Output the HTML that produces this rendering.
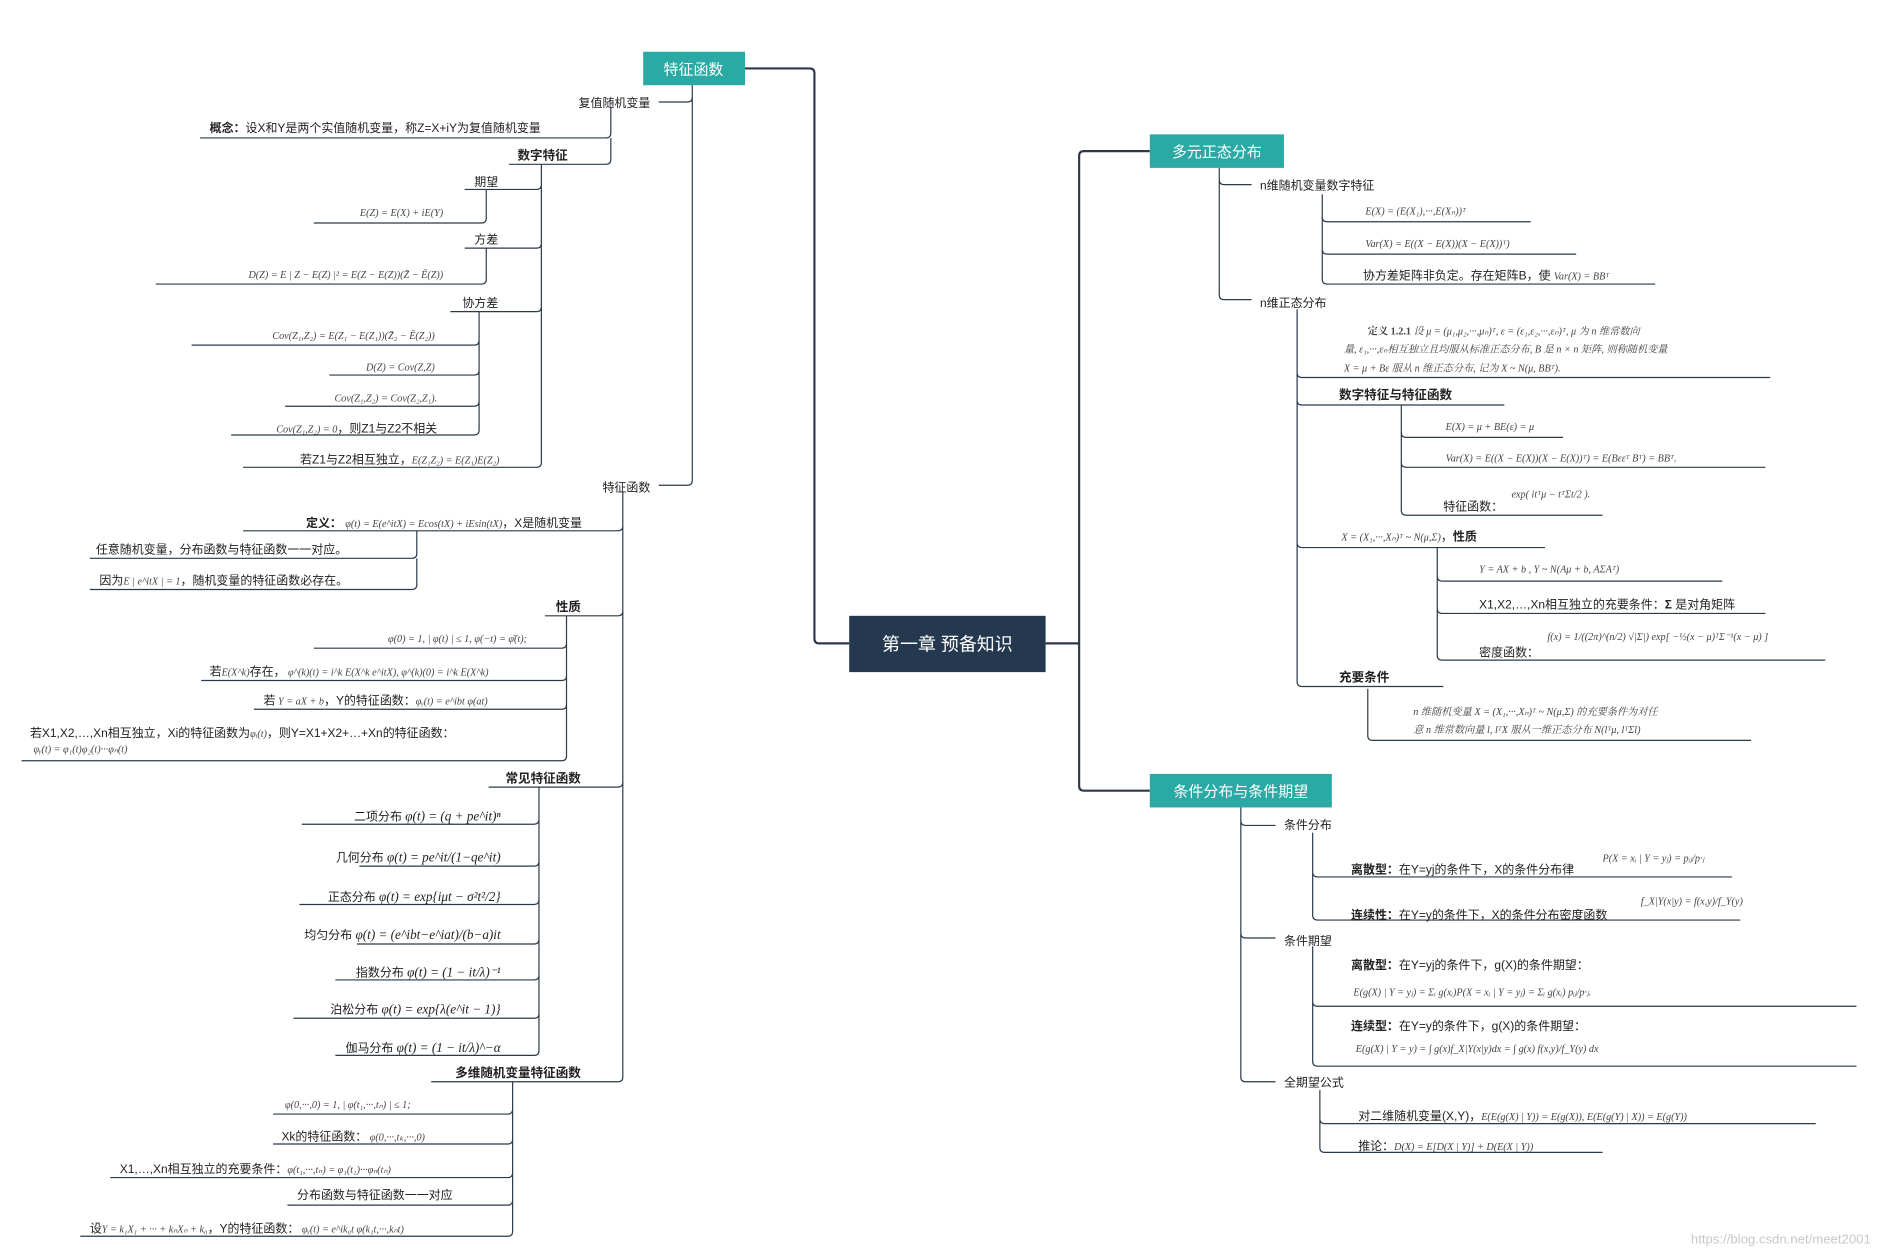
<!DOCTYPE html>
<html><head><meta charset="utf-8"><style>
html,body{margin:0;padding:0;background:#fff;}
svg{display:block}
.t{font-family:"Liberation Sans","Noto Sans CJK SC",sans-serif;font-size:10px;fill:#222}
.b{font-family:"Liberation Sans","Noto Sans CJK SC",sans-serif;font-size:10.5px;font-weight:bold;fill:#222}
.f{font-family:"Liberation Serif","Noto Serif CJK SC",serif;font-size:8.5px;fill:#444;font-style:italic}
.F{font-family:"Liberation Serif",serif;font-size:11px;fill:#222;font-style:italic}
.w{font-family:"Liberation Sans","Noto Sans CJK SC",sans-serif;font-size:12.5px;fill:#fff}
.l{stroke:#2b3a4a;stroke-width:1;fill:none}
.m{stroke:#2b3a4a;stroke-width:1.8;fill:none}
</style></head><body>
<svg width="1878" height="1258" viewBox="0 0 1568 1050" xmlns="http://www.w3.org/2000/svg">
<path class="m" d="M622 57 H676 Q680 57 680 61 V533 Q680 537 684 537 H709"/>
<path class="m" d="M873 537 H901 M905 126 Q901 126 901 130 V656 Q901 660 905 660 M905 126 H960 M905 660 H960"/>
<rect x="709" y="514" width="164" height="47" fill="#24394f"/>
<text class="w" x="791" y="543" text-anchor="middle" style="font-size:15px">第一章  预备知识</text>
<rect x="537" y="43" width="85" height="28" fill="#2aa9a5"/>
<text class="w" x="579" y="62" text-anchor="middle">特征函数</text>
<rect x="960" y="112" width="112" height="28" fill="#2aa9a5"/>
<text class="w" x="1016" y="131" text-anchor="middle">多元正态分布</text>
<rect x="960" y="646" width="152" height="28" fill="#2aa9a5"/>
<text class="w" x="1036" y="665" text-anchor="middle">条件分布与条件期望</text>

<path class="l" d="M578 71 V401 Q578 405 574 405 H550 M578 81 Q578 85 574 85 H550"/>
<text class="t" x="543" y="89" text-anchor="end">复值随机变量</text>
<path class="l" d="M510 89 V111 Q510 115 506 115 H167 M510 115 V133 Q510 137 506 137 H425"/>
<text class="t" x="175" y="110"><tspan font-weight="bold">概念：</tspan>设X和Y是两个实值随机变量，称Z=X+iY为复值随机变量</text>
<text class="b" x="474" y="133" text-anchor="end">数字特征</text>
<path class="l" d="M452 137 V386 Q452 390 448 390 H203 M452 154 Q452 158 448 158 H388 M452 203 Q452 207 448 207 H388 M452 256 Q452 260 448 260 H376"/>
<text class="t" x="416" y="155" text-anchor="end">期望</text>
<text class="t" x="416" y="203" text-anchor="end">方差</text>
<text class="t" x="416" y="256" text-anchor="end">协方差</text>
<path class="l" d="M406 158 V182 Q406 186 402 186 H262 M406 207 V233 Q406 237 402 237 H130"/>
<text class="f" x="370" y="180" text-anchor="end">E(Z) = E(X) + iE(Y)</text>
<text class="f" x="370" y="232" text-anchor="end">D(Z) = E | Z − E(Z) |² = E(Z − E(Z))(Z̄ − Ē(Z))</text>
<path class="l" d="M400 260 V359 Q400 363 396 363 H193 M400 284 Q400 288 396 288 H160 M400 309 Q400 313 396 313 H275 M400 335 Q400 339 396 339 H238"/>
<text class="f" x="363" y="283" text-anchor="end">Cov(Z₁,Z₂) = E(Z₁ − E(Z₁))(Z̄₂ − Ē(Z₂))</text>
<text class="f" x="363" y="309" text-anchor="end">D(Z) = Cov(Z,Z)</text>
<text class="f" x="365" y="335" text-anchor="end">Cov(Z₁,Z₂) = Cov(Z₂,Z₁).</text>
<text class="t" x="365" y="361" text-anchor="end"><tspan class="f">Cov(Z₁,Z₂) = 0</tspan>，则Z1与Z2不相关</text>
<text class="t" x="417" y="387" text-anchor="end">若Z1与Z2相互独立，<tspan class="f">E(Z₁Z₂) = E(Z₁)E(Z₂)</tspan></text>
<text class="t" x="543" y="410" text-anchor="end">特征函数</text>
<path class="l" d="M520 410 V899 Q520 903 516 903 H360 M520 439 Q520 443 516 443 H203 M520 510 Q520 514 516 514 H455 M520 653 Q520 657 516 657 H408"/>
<text class="t" x="486" y="440" text-anchor="end"><tspan font-weight="bold">定义：</tspan> <tspan class="f">φ(t) = E(e^itX) = Ecos(tX) + iEsin(tX)</tspan>，X是随机变量</text>
<path class="l" d="M348 443 V462 Q348 466 344 466 H75 M348 466 V488 Q348 492 344 492 H75"/>
<text class="t" x="80" y="462">任意随机变量，分布函数与特征函数一一对应。</text>
<text class="t" x="83" y="488">因为<tspan class="f">E | e^itX | = 1</tspan>，随机变量的特征函数必存在。</text>
<text class="b" x="485" y="510" text-anchor="end">性质</text>
<path class="l" d="M473 514 V631 Q473 635 469 635 H18 M473 537 Q473 541 469 541 H262 M473 564 Q473 568 469 568 H168 M473 588 Q473 592 469 592 H212"/>
<text class="f" x="440" y="536" text-anchor="end">φ(0) = 1, | φ(t) | ≤ 1, φ(−t) = φ̄(t);</text>
<text class="t" x="175" y="564">若<tspan class="f">E(X^k)</tspan>存在，<tspan class="f">  φ^(k)(t) = i^k E(X^k e^itX),   φ^(k)(0) = i^k E(X^k)</tspan></text>
<text class="t" x="220" y="588">若<tspan class="f"> Y = aX + b</tspan>，Y的特征函数：<tspan class="f">φᵧ(t) = e^ibt φ(at)</tspan></text>
<text class="t" x="25" y="615">若X1,X2,…,Xn相互独立，Xi的特征函数为<tspan class="f">φᵢ(t)</tspan>，则Y=X1+X2+…+Xn的特征函数：</text>
<text class="f" x="28" y="628">φᵧ(t) = φ₁(t)φ₂(t)···φₙ(t)</text>
<text class="b" x="485" y="653" text-anchor="end">常见特征函数</text>
<path class="l" d="M450 657 V877 Q450 881 446 881 H280 M450 684 Q450 688 446 688 H252 M450 719 Q450 723 446 723 H300 M450 751 Q450 755 446 755 H250 M450 784 Q450 788 446 788 H298 M450 814 Q450 818 446 818 H280 M450 846 Q450 850 446 850 H245"/>
<text class="t" x="418" y="685" text-anchor="end">二项分布 <tspan class="F" font-size="13">φ(t) = (q + pe^it)ⁿ</tspan></text>
<text class="t" x="418" y="719" text-anchor="end">几何分布 <tspan class="F">φ(t) = pe^it/(1−qe^it)</tspan></text>
<text class="t" x="418" y="752" text-anchor="end">正态分布 <tspan class="F">φ(t) = exp{iμt − σ²t²/2}</tspan></text>
<text class="t" x="418" y="784" text-anchor="end">均匀分布 <tspan class="F">φ(t) = (e^ibt−e^iat)/(b−a)it</tspan></text>
<text class="t" x="418" y="815" text-anchor="end">指数分布 <tspan class="F">φ(t) = (1 − it/λ)⁻¹</tspan></text>
<text class="t" x="418" y="846" text-anchor="end">泊松分布 <tspan class="F">φ(t) = exp{λ(e^it − 1)}</tspan></text>
<text class="t" x="418" y="878" text-anchor="end">伽马分布 <tspan class="F">φ(t) = (1 − it/λ)^−α</tspan></text>
<text class="b" x="485" y="899" text-anchor="end">多维随机变量特征函数</text>
<path class="l" d="M428 903 V1028 Q428 1032 424 1032 H67 M428 926 Q428 930 424 930 H228 M428 951 Q428 955 424 955 H228 M428 979 Q428 983 424 983 H92 M428 1002 Q428 1006 424 1006 H240"/>
<text class="f" x="238" y="925">φ(0,···,0) = 1, | φ(t₁,···,tₙ) | ≤ 1;</text>
<text class="t" x="235" y="952">Xk的特征函数：<tspan class="f"> φ(0,···,tₖ,···,0)</tspan></text>
<text class="t" x="100" y="979">X1,…,Xn相互独立的充要条件：<tspan class="f">φ(t₁,···,tₙ) = φ₁(t₁)···φₙ(tₙ)</tspan></text>
<text class="t" x="248" y="1001">分布函数与特征函数一一对应</text>
<text class="t" x="75" y="1029">设<tspan class="f">Y = k₁X₁ + ··· + kₙXₙ + k₀</tspan>，Y的特征函数：<tspan class="f">  φᵧ(t) = e^ik₀t φ(k₁t,···,kₙt)</tspan></text>

<path class="l" d="M1018 140 V246 Q1018 250 1022 250 H1045 M1018 150 Q1018 154 1022 154 H1045"/>
<text class="t" x="1052" y="158">n维随机变量数字特征</text>
<text class="t" x="1052" y="256">n维正态分布</text>
<path class="l" d="M1104 162 V233 Q1104 237 1108 237 H1382 M1104 181 Q1104 185 1108 185 H1278 M1104 208 Q1104 212 1108 212 H1316"/>
<text class="f" x="1140" y="179">E(X) = (E(X₁),···,E(Xₙ))ᵀ</text>
<text class="f" x="1140" y="206">Var(X) = E((X − E(X))(X − E(X))ᵀ)</text>
<text class="t" x="1138" y="233">协方差矩阵非负定。存在矩阵B，使 <tspan class="f">Var(X) = BBᵀ</tspan></text>
<path class="l" d="M1083 258 V569 Q1083 573 1087 573 H1205 M1083 311 Q1083 315 1087 315 H1478 M1083 334 Q1083 338 1087 338 H1256 M1083 453 Q1083 457 1087 457 H1290"/>
<text class="f" x="1142" y="279"><tspan font-weight="bold" font-style="normal">定义 1.2.1</tspan>   设 μ = (μ₁,μ₂,···,μₙ)ᵀ, ε = (ε₁,ε₂,···,εₙ)ᵀ, μ 为 n 维常数向</text>
<text class="f" x="1122" y="294">量, ε₁,···,εₙ相互独立且均服从标准正态分布, B 是 n × n 矩阵, 则称随机变量</text>
<text class="f" x="1122" y="310">X = μ + Bε 服从 n 维正态分布, 记为 X ~ N(μ, BBᵀ).</text>
<text class="b" x="1118" y="333">数字特征与特征函数</text>
<path class="l" d="M1170 338 V426 Q1170 430 1174 430 H1338 M1170 361 Q1170 365 1174 365 H1305 M1170 386 Q1170 390 1174 390 H1474"/>
<text class="f" x="1207" y="359">E(X) = μ + BE(ε) = μ</text>
<text class="f" x="1207" y="385">Var(X) = E((X − E(X))(X − E(X))ᵀ) = E(Bεεᵀ Bᵀ) = BBᵀ.</text>
<text class="t" x="1205" y="426">特征函数：</text>
<text class="f" x="1262" y="415">exp( itᵀμ − tᵀΣt/2 ).</text>
<text class="t" x="1120" y="451"><tspan class="f">X = (X₁,···,Xₙ)ᵀ ~ N(μ,Σ)</tspan>，<tspan font-weight="bold">性质</tspan></text>
<path class="l" d="M1200 457 V547 Q1200 551 1204 551 H1524 M1200 481 Q1200 485 1204 485 H1438 M1200 508 Q1200 512 1204 512 H1474"/>
<text class="f" x="1235" y="478">Y = AX + b ,  Y ~ N(Aμ + b, AΣAᵀ)</text>
<text class="t" x="1235" y="508">X1,X2,…,Xn相互独立的充要条件：<tspan font-weight="bold">Σ</tspan> 是对角矩阵</text>
<text class="t" x="1235" y="548">密度函数：</text>
<text class="f" x="1292" y="534">f(x) = 1/((2π)^(n/2) √|Σ|) exp[ −½(x − μ)ᵀΣ⁻¹(x − μ) ]</text>
<text class="b" x="1118" y="569">充要条件</text>
<path class="l" d="M1142 575 V614 Q1142 618 1146 618 H1462"/>
<text class="f" x="1180" y="597">n 维随机变量 X = (X₁,···,Xₙ)ᵀ ~ N(μ,Σ) 的充要条件为对任</text>
<text class="f" x="1180" y="612">意 n 维常数向量 l, lᵀX 服从一维正态分布 N(lᵀμ, lᵀΣl)</text>

<path class="l" d="M1036 674 V899 Q1036 903 1040 903 H1065 M1036 685 Q1036 689 1040 689 H1065 M1036 779 Q1036 783 1040 783 H1065"/>
<text class="t" x="1072" y="692">条件分布</text>
<text class="t" x="1072" y="789">条件期望</text>
<text class="t" x="1072" y="907">全期望公式</text>
<path class="l" d="M1096 695 V764 Q1096 768 1100 768 H1453 M1096 728 Q1096 732 1100 732 H1446"/>
<text class="t" x="1128" y="729"><tspan font-weight="bold">离散型：</tspan>在Y=yj的条件下，X的条件分布律</text>
<text class="f" x="1338" y="719">P(X = xᵢ | Y = yⱼ) = pᵢⱼ/p·ⱼ</text>
<text class="t" x="1128" y="767"><tspan font-weight="bold">连续性：</tspan>在Y=y的条件下，X的条件分布密度函数</text>
<text class="f" x="1370" y="755">f_X|Y(x|y) = f(x,y)/f_Y(y)</text>
<path class="l" d="M1096 790 V886 Q1096 890 1100 890 H1550 M1096 836 Q1096 840 1100 840 H1550"/>
<text class="t" x="1128" y="809"><tspan font-weight="bold">离散型：</tspan>在Y=yj的条件下，g(X)的条件期望：</text>
<text class="f" x="1130" y="831">E(g(X) | Y = yⱼ) = Σᵢ g(xᵢ)P(X = xᵢ | Y = yⱼ) = Σᵢ g(xᵢ) pᵢⱼ/p·ⱼ.</text>
<text class="t" x="1128" y="860"><tspan font-weight="bold">连续型：</tspan>在Y=y的条件下，g(X)的条件期望：</text>
<text class="f" x="1132" y="878">E(g(X) | Y = y) = ∫ g(x)f_X|Y(x|y)dx = ∫ g(x) f(x,y)/f_Y(y) dx</text>
<path class="l" d="M1102 910 V958 Q1102 962 1106 962 H1338 M1102 934 Q1102 938 1106 938 H1516"/>
<text class="t" x="1134" y="935">对二维随机变量(X,Y)，<tspan class="f">E(E(g(X) | Y)) = E(g(X)),   E(E(g(Y) | X)) = E(g(Y))</tspan></text>
<text class="t" x="1134" y="960">推论：<tspan class="f">D(X) = E[D(X | Y)] + D(E(X | Y))</tspan></text>
<text x="1562" y="1038" text-anchor="end" style="font-family:'Liberation Sans',sans-serif;font-size:11px;fill:#c8c8c8">https://blog.csdn.net/meet2001</text>
</svg>
</body></html>
